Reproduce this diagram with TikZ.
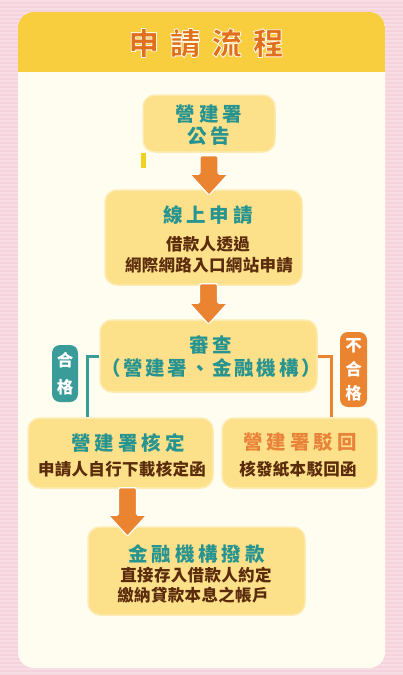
\documentclass[tikz,border=0pt]{standalone}
\usepackage{fontspec}
\usetikzlibrary{calc}
\newfontfamily\cjk{Noto Sans CJK TC}[LetterSpace=2]
\newfontfamily\cjkhead{Noto Sans CJK TC}[LetterSpace=20]
\newfontfamily\cjktitle{Noto Sans CJK TC}[LetterSpace=36]
\definecolor{pinkbg}{HTML}{F8DDE5}
\definecolor{pinkstripe}{HTML}{F5D3DD}
\definecolor{cream}{HTML}{FFFDF0}
\definecolor{hdryellow}{HTML}{F8CD3E}
\definecolor{boxfill}{HTML}{FCE08A}
\definecolor{boxedge}{HTML}{FEEBB3}
\definecolor{tealtxt}{HTML}{27948F}
\definecolor{tealfill}{HTML}{3A9C99}
\definecolor{browntxt}{HTML}{5B2C0C}
\definecolor{orangeA}{HTML}{EA8431}
\definecolor{titleorange}{HTML}{E0701E}
\definecolor{orangetxt}{HTML}{E8833A}
\definecolor{markyellow}{HTML}{EED21F}
% outlined text: fill in the current colour, thin cream stroke around the glyphs
\newcommand\outlinedtext[1]{\special{pdf:literal direct 2 Tr 1 j 0.9 w 1 0.97 0.88 RG}#1\special{pdf:literal direct 0 Tr}}
\newcommand\blockarr[2]{%
  \path let \p1=(#1), \p2=(#2) in [blockarrow]
    (\x1-9pt,\y1) -- (\x1+9pt,\y1) -- (\x1+9pt,\y2+21pt) -- (\x1+19pt,\y2+21pt)
    -- (\x1,\y2) -- (\x1-19pt,\y2+21pt) -- (\x1-9pt,\y2+21pt) -- cycle;}
\begin{document}
\begin{tikzpicture}[x=1pt,y=-1pt,
  flowbox/.style={rectangle, rounded corners=12pt, fill=boxfill, draw=boxedge, line width=1.5pt, inner sep=0pt},
  headtxt/.style={font=\cjkhead\bfseries\fontsize{19.5}{22}\selectfont, text=tealtxt, inner sep=0pt},
  bodytxt/.style={font=\cjk\bfseries\fontsize{16.5}{20}\selectfont, text=browntxt, inner sep=0pt},
  titletxt/.style={font=\cjktitle\bfseries\fontsize{30.5}{34}\selectfont, text=titleorange, inner sep=0pt},
  blockarrow/.style={fill=orangeA, draw=white, line width=1.2pt, rounded corners=1.5pt},
  tealline/.style={draw=tealfill, line width=3pt},
  orangeline/.style={draw=orangeA, line width=3pt},
  tagteal/.style={rectangle, rounded corners=8pt, fill=tealfill, text=white, inner sep=0pt, align=center},
  tagorange/.style={rectangle, rounded corners=8pt, fill=orangeA, text=white, inner sep=0pt, align=center}
]
\useasboundingbox (0,0) rectangle (403,675);
% background
\fill[pinkbg] (0,0) rectangle (403,675);
\foreach \i in {2,6,...,674} \fill[pinkstripe] (0,\i) rectangle (403,\i+1.5);
\fill[cream, rounded corners=16pt] (18,12) rectangle (385,668);
\begin{scope}
  \clip[rounded corners=16pt] (18,12) rectangle (385,668);
  \fill[hdryellow] (18,12) rectangle (385,72);
\end{scope}
% title
\node[titletxt] (title) at (206,43) {\outlinedtext{申請流程}};
% boxes
\node[flowbox, minimum width=132pt, minimum height=57pt] (b1) at (209,123.5) {};
\node[flowbox, minimum width=197pt, minimum height=95pt] (b2) at (203.5,237.5) {};
\node[flowbox, minimum width=217pt, minimum height=72pt] (b3) at (208.5,356) {};
\node[flowbox, minimum width=185pt, minimum height=70pt] (b4) at (120.5,453) {};
\node[flowbox, minimum width=155pt, minimum height=70pt] (b5) at (299.5,453) {};
\node[flowbox, minimum width=217pt, minimum height=88pt] (b6) at (196.5,571) {};
% texts
\node[headtxt] (b1a) at (209,114) {營建署};
\node[headtxt] (b1b) at (209,136.5) {公告};
\node[headtxt] (b2a) at (208,215.5) {線上申請};
\node[bodytxt] (b2b) at (208,244) {借款人透過};
\node[bodytxt] (b2c) at (209,265) {網際網路入口網站申請};
\node[headtxt] (b3a) at (211,345) {審查};
\node[headtxt, font=\cjk\bfseries\fontsize{19.5}{22}\selectfont\addfontfeature{LetterSpace=14}] (b3b) at (211,368.5) {（營建署、金融機構）};
\node[headtxt] (b4a) at (128,442.5) {營建署核定};
\node[bodytxt] (b4b) at (122,469.5) {申請人自行下載核定函};
\node[headtxt, text=orangetxt] (b5a) at (300,442.5) {營建署駁回};
\node[bodytxt] (b5b) at (298,469.5) {核發紙本駁回函};
\node[headtxt] (b6a) at (196.5,554.5) {金融機構撥款};
\node[bodytxt] (b6b) at (196,575.5) {直接存入借款人約定};
\node[bodytxt] (b6c) at (193,595.5) {繳納貸款本息之帳戶};
% small yellow mark
\fill[markyellow] (141,153) rectangle (146,168);
% block arrows
\coordinate (a1s) at ($(b1.south)+(0,3)$);
\coordinate (a1e) at ($(b1.south |- b2.north)+(0,6)$);
\blockarr{a1s}{a1e}
\coordinate (a2s) at ($(b3.north |- b2.south)+(0,-2)$);
\coordinate (a2e) at ($(b3.north)+(0,5)$);
\blockarr{a2s}{a2e}
\coordinate (a3s) at ($(b4.south)+(7,-1)$);
\coordinate (a3e) at ($(b4.south |- b6.north)+(7,10)$);
\blockarr{a3s}{a3e}
% connectors
\draw[tealline] (b3.west) -| ($(b4.north west)+(60,0)$);
\draw[orangeline] (b3.east) -| ($(b5.north east)+(-46,0)$);
% tags
\node[tagteal, minimum width=26pt, minimum height=57pt, font=\cjk\bfseries\fontsize{16.5}{27}\selectfont] (tagok) at (65,373.5) {合\\格};
\node[tagorange, minimum width=27pt, minimum height=75pt, font=\cjk\bfseries\fontsize{16.5}{24}\selectfont] (tagno) at (353.5,369.5) {不\\合\\格};
\end{tikzpicture}
\end{document}
